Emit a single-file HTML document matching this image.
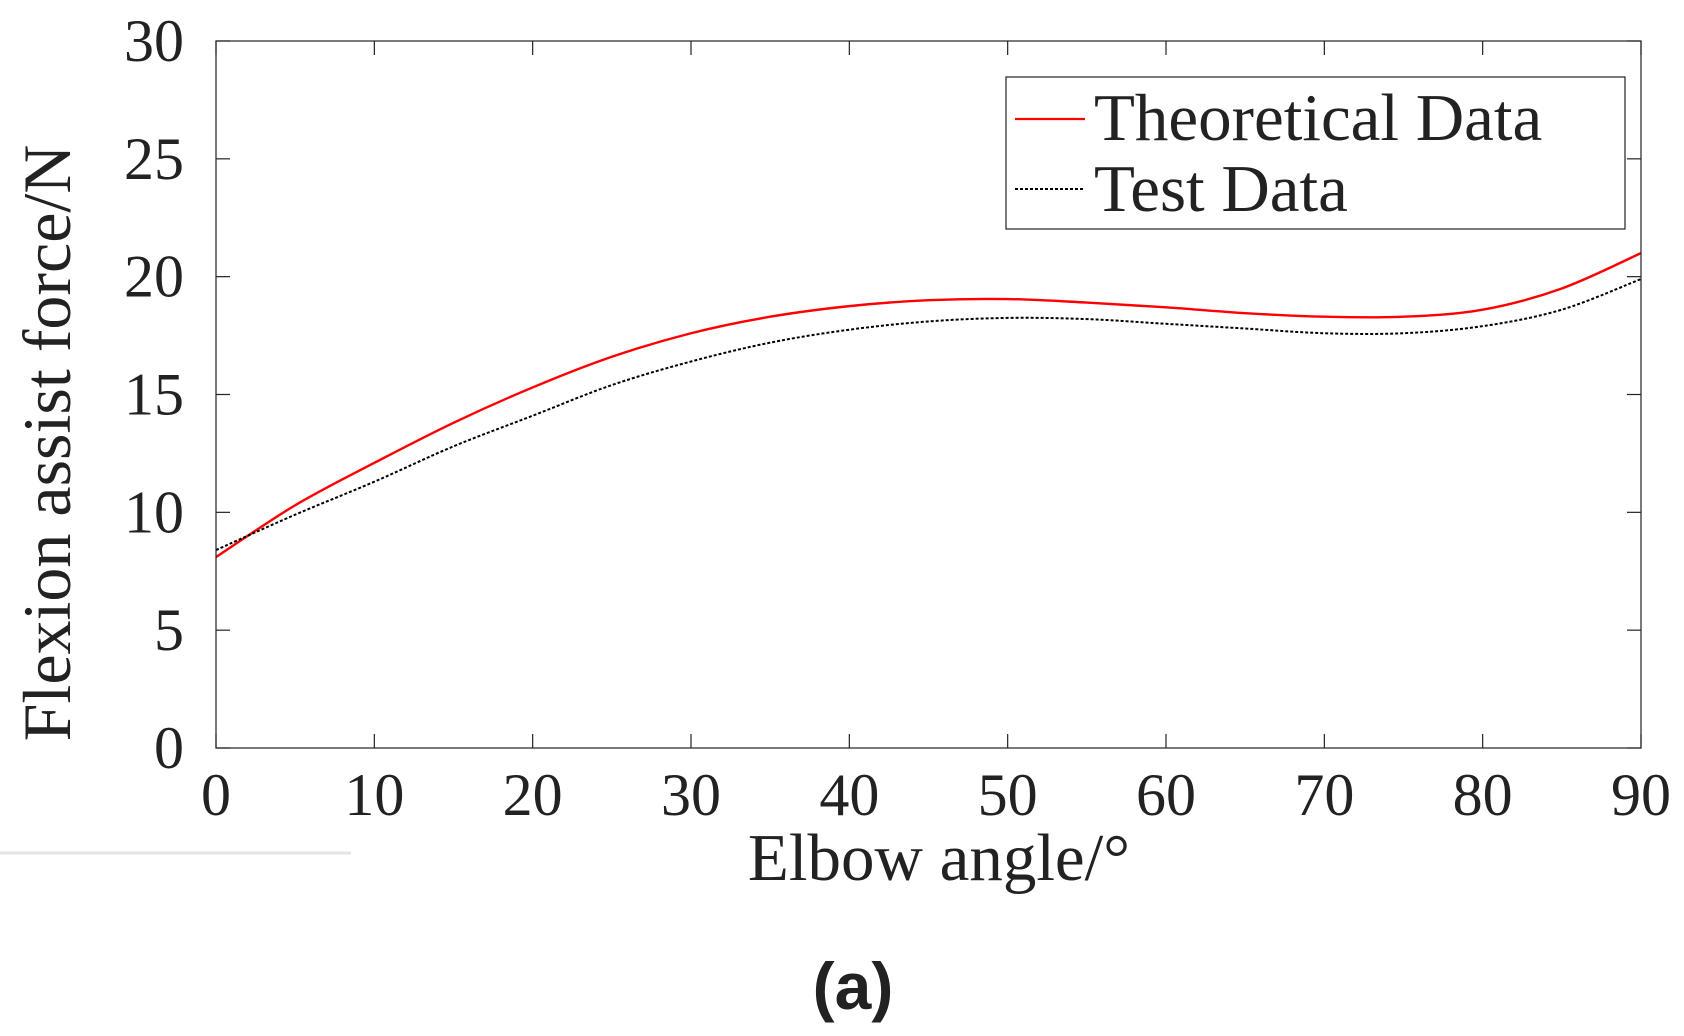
<!DOCTYPE html>
<html><head><meta charset="utf-8"><style>
html,body{margin:0;padding:0;background:#fff;width:1684px;height:1036px;overflow:hidden}
svg text{font-family:"Liberation Serif",serif;fill:#222}
</style></head><body>
<svg id="chart" width="1684" height="1036" xmlns="http://www.w3.org/2000/svg">
<line x1="0" y1="853" x2="351" y2="853" stroke="#e4e4e4" stroke-width="3"/>
<g id="axes"></g>
<g id="series"></g>
<rect x="216" y="41" width="1425" height="707" fill="none" stroke="#222" stroke-width="1.2"/>
<g>
<rect x="1006" y="77" width="619" height="152" fill="#fff" stroke="#222" stroke-width="1.2"/>
<line x1="1015" y1="119" x2="1085" y2="119" stroke="#f00" stroke-width="2.2"/>
<text x="1094" y="140" font-size="67">Theoretical Data</text>
<line x1="1015" y1="189" x2="1085" y2="189" stroke="#000" stroke-width="2" stroke-dasharray="3,2"/>
<text x="1094" y="211" font-size="67">Test Data</text>
</g>
<text x="939" y="880" font-size="67" text-anchor="middle">Elbow angle/°</text>
<text transform="translate(70,443) rotate(-90)" font-size="68" text-anchor="middle">Flexion assist force/N</text>
<text x="853" y="1009" font-size="66" font-weight="bold" text-anchor="middle" style="font-family:'Liberation Sans',sans-serif">(a)</text>
</svg>
<script>
const xCats=[0,5,10,15,20,25,30,35,40,45,50,55,60,65,70,75,80,85,90];
const theoretical=[8.1,10.3,12.1,13.8,15.3,16.6,17.6,18.3,18.75,19.0,19.05,18.9,18.7,18.45,18.3,18.3,18.6,19.5,21.0];
const testData=[8.4,9.9,11.3,12.8,14.1,15.4,16.4,17.2,17.75,18.1,18.25,18.2,18.0,17.8,17.6,17.6,17.9,18.6,19.9];
const xTicks=[0,10,20,30,40,50,60,70,80,90];
const yTicks=[0,5,10,15,20,25,30];
const NS="http://www.w3.org/2000/svg";
const L=216,R=1641,T=41,B=748;
const sx=v=>L+(v-0)/90*(R-L);
const sy=v=>B-(v-0)/30*(B-T);
const axes=document.getElementById('axes');
function mk(tag,attrs,parent){const e=document.createElementNS(NS,tag);for(const k in attrs)e.setAttribute(k,attrs[k]);parent.appendChild(e);return e;}
xTicks.forEach(t=>{
  const x=sx(t);
  const a=mk('line',{x1:x,y1:B,x2:x,y2:B-14,stroke:'#222','stroke-width':1.2},axes);
  
  
  const b=mk('line',{x1:x,y1:T,x2:x,y2:T+14,stroke:'#222','stroke-width':1.2},axes);
  
  
  const tx=mk('text',{x:x,y:815,'font-size':60,'text-anchor':'middle'},axes);
  tx.textContent=t;
  
  
});
yTicks.forEach(t=>{
  const y=sy(t);
  const a=mk('line',{x1:L,y1:y,x2:L+14,y2:y,stroke:'#222','stroke-width':1.2},axes);
  
  
  const b=mk('line',{x1:R,y1:y,x2:R-14,y2:y,stroke:'#222','stroke-width':1.2},axes);
  
  
  const tx=mk('text',{x:184,y:y+20,'font-size':60,'text-anchor':'end'},axes);
  tx.textContent=t;
  
  
});
function smooth(vals){
  const p=vals.map((v,i)=>[sx(xCats[i]),sy(v)]);
  let d='M'+p[0][0]+','+p[0][1];
  for(let i=0;i<p.length-1;i++){
    const p0=p[Math.max(0,i-1)],p1=p[i],p2=p[i+1],p3=p[Math.min(p.length-1,i+2)];
    const c1=[p1[0]+(p2[0]-p0[0])/6,p1[1]+(p2[1]-p0[1])/6];
    const c2=[p2[0]-(p3[0]-p1[0])/6,p2[1]-(p3[1]-p1[1])/6];
    d+=' C'+c1+' '+c2+' '+p2;
  }
  return d;
}
const sg=document.getElementById('series');
const l1=mk('path',{d:smooth(theoretical),fill:'none',stroke:'#f00','stroke-width':2.4},sg);


const l2=mk('path',{d:smooth(testData),fill:'none',stroke:'#000','stroke-width':2,'stroke-dasharray':'3,2'},sg);


</script>
</body></html>
